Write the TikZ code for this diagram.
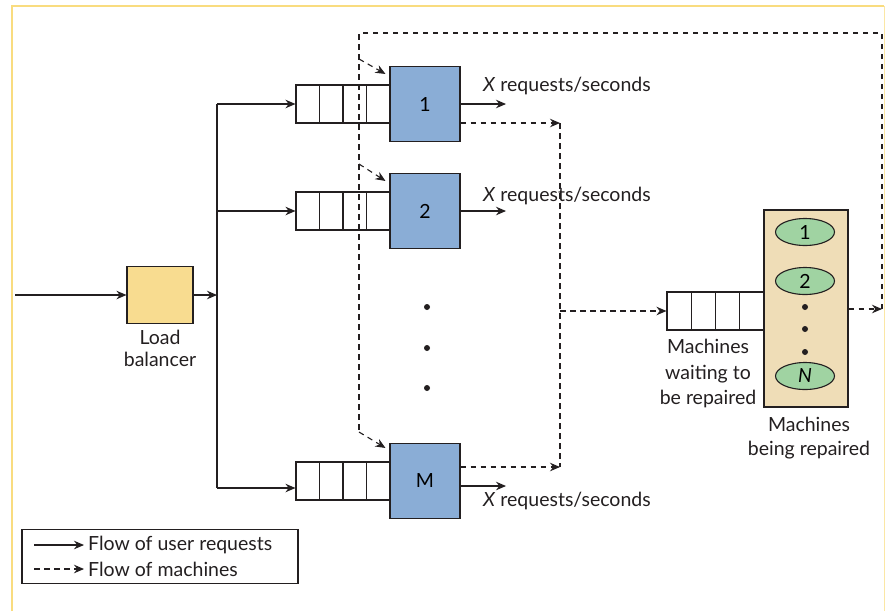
\documentclass[tikz,border=0pt]{standalone}
\usepackage{fontspec}
\setmainfont{Lato}
\usetikzlibrary{arrows.meta,shapes.geometric,calc}
\definecolor{ink}{HTML}{231F20}
\definecolor{srvblue}{HTML}{8AADD6}
\definecolor{lbyellow}{HTML}{F8DC90}
\definecolor{reptan}{HTML}{EFDDB7}
\definecolor{repgreen}{HTML}{A0D3A2}
\definecolor{framey}{HTML}{F9DC7F}
\tikzset{
  base/.style={draw=ink, line width=1.1pt},
  flow/.style={base, -{Stealth[length=10pt,width=8.5pt]}},
  mline/.style={base, dash pattern=on 5.5pt off 4.5pt},
  mflow/.style={flow, dash pattern=on 5.5pt off 4.5pt},
  server/.style={base, fill=srvblue, minimum width=70pt, minimum height=75pt, inner sep=0pt},
  queue/.style={base, minimum width=94pt, minimum height=38pt, inner sep=0pt,
    path picture={\foreach \i in {1,2,3}{\draw[ink, line width=1.1pt]
      ($(path picture bounding box.south west)!\i/4!(path picture bounding box.south east)$) --
      ($(path picture bounding box.north west)!\i/4!(path picture bounding box.north east)$);}}},
  repell/.style={base, ellipse, fill=repgreen, minimum width=59pt, minimum height=27pt, inner sep=0pt},
  lbl/.style={text=ink, inner sep=0pt},
  dotmark/.style={circle, fill=ink, inner sep=0pt, minimum size=6pt},
}
\begin{document}
\begin{tikzpicture}[x=1pt,y=-1pt, font=\fontsize{19.5}{23}\selectfont]
\fill[white] (0,0) rectangle (885,611);
\useasboundingbox (0,0) rectangle (885,611);
% frame
\draw[framey, line width=2.5pt] (12,611) -- (12,6) -- (884,6);
\draw[framey!70, line width=1pt] (884,6) -- (884,611);

% load balancer
\node[base, fill=lbyellow, minimum width=66pt, minimum height=57pt] (lb) at (160,295) {};
\node[lbl, align=center, font=\fontsize{19.5}{22}\selectfont] (lblab) at (160,348) {Load\\balancer};
\coordinate (in) at (15,295);
\coordinate (split) at (217,295);
\coordinate (ttop) at (217,104);
\coordinate (t2) at (217,211);
\coordinate (tbot) at (217,488);
\draw[flow] (in) -- (lb);
\draw[flow] (lb) -- (split);
\draw[base] (ttop) -- (tbot);

% queues and servers
\node[queue] (q1) at (343,104) {};
\node[queue] (q2) at (343,211) {};
\node[queue] (qM) at (343,481) {};

% flow of machines (left side)
\coordinate (ltop) at (359,33);
\coordinate (lbot) at (359,432);
\coordinate (rtop) at (882,33);
\coordinate (ret) at (882,309);
\coordinate (b1) at (359,59);
\coordinate (b2) at (359,164);

\draw[mline] (ret) -- (rtop) -- (ltop) -- (lbot);

\node[server] (s1) at (425,104) {1};
\node[server] (s2) at (425,211) {2};
\node[server] (sM) at (425,481) {M};

\draw[mflow] (b1) -- ([xshift=-4pt,yshift=-8pt]s1.north west);
\draw[mflow] (b2) -- ([xshift=-4pt,yshift=-8pt]s2.north west);
\draw[mflow] (lbot) -- ([xshift=-4pt,yshift=-5pt]sM.north west);

\draw[flow] (ttop) -- (q1.west);
\draw[flow] (t2) -- (q2.west);
\draw[flow] (tbot) -- ([yshift=-7pt]qM.west);

% outputs
\coordinate (o1) at (506,104);
\coordinate (o2) at (506,211);
\coordinate (oM) at (506,486);
\draw[flow] (s1.east) -- (o1);
\draw[flow] (s2.east) -- (o2);
\draw[flow] ([yshift=-5pt]sM.east) -- (oM);
\node[lbl, anchor=west] (x1) at (483,86) {\textit{X} requests/seconds};
\node[lbl, anchor=west] (x2) at (483,196) {\textit{X} requests/seconds};
\node[lbl, anchor=west] (xM) at (483,501) {\textit{X} requests/seconds};

% dots
\node[dotmark] (m1) at (427,307) {};
\node[dotmark] (m2) at (427,348) {};
\node[dotmark] (m3) at (427,388) {};

% to repair
\coordinate (r1) at (560,123);
\coordinate (rmid) at (560,311);
\coordinate (rM) at (560,467);
\draw[mflow] ([yshift=-19pt]s1.east) -- (r1);
\draw[mflow] ([yshift=14pt]sM.east) -- (rM);
\draw[mline] (r1) -- (rM);

\node[queue, minimum width=97pt] (rq) at (715.5,311) {};
\draw[mflow] (rmid) -- (rq.west);

\node[base, fill=reptan, minimum width=84pt, minimum height=197pt] (rb) at (806,308.5) {};
\node[repell] (e1) at (805,232) {1};
\node[repell] (e2) at (805,281) {2};
\node[repell] (eN) at (805,376) {\textit{N}};
\node[dotmark] (d1) at (805,307) {};
\node[dotmark] (d2) at (805,329) {};
\node[dotmark] (d3) at (805,352) {};
\draw[mflow] (rb.east |- ret) -- (ret);

\node[lbl, align=center, font=\fontsize{19.5}{25.5}\selectfont] (wlab) at (708,373.5) {Machines\\waiting to\\be repaired};
\node[lbl, align=center, font=\fontsize{19.5}{24}\selectfont] (blab) at (809,438) {Machines\\being repaired};

% legend
\node[base, minimum width=276pt, minimum height=54pt] (leg) at (160,556.5) {};
\coordinate (la1) at (34,545);
\coordinate (la2) at (84,545);
\coordinate (lb1) at (34,569);
\coordinate (lb2) at (84,569);
\draw[flow] (la1) -- (la2);
\draw[mflow] (lb1) -- (lb2);
\node[lbl, anchor=west] (lt1) at (88,545) {Flow of user requests};
\node[lbl, anchor=west] (lt2) at (88,569) {Flow of machines};
\end{tikzpicture}
\end{document}
